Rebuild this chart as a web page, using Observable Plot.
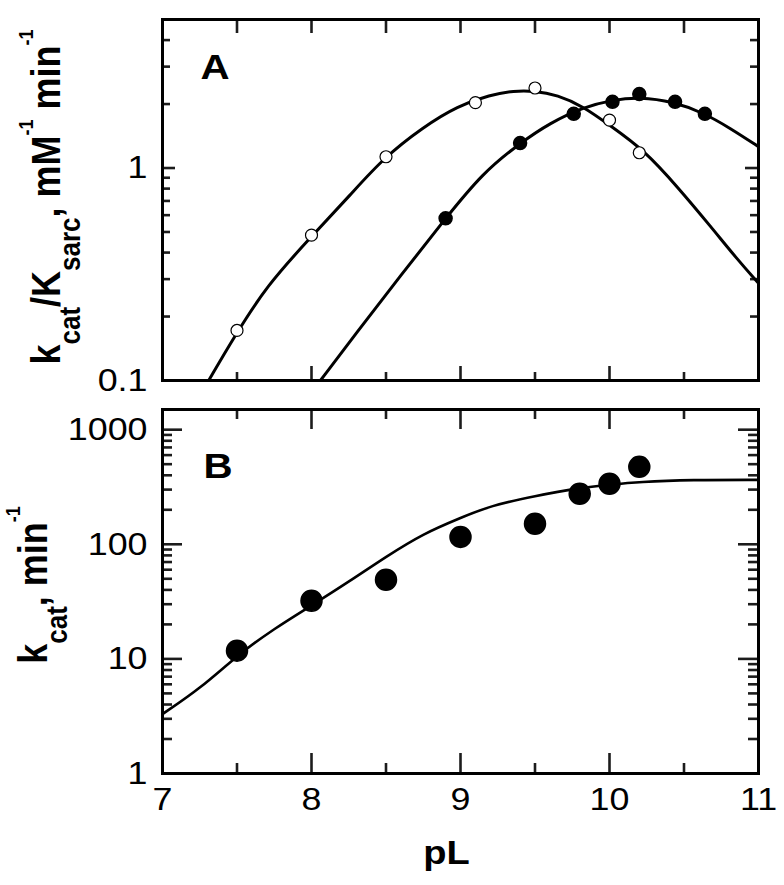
<!DOCTYPE html>
<html><head><meta charset="utf-8">
<script src="https://cdn.jsdelivr.net/npm/d3@7"></script>
<script src="https://cdn.jsdelivr.net/npm/@observablehq/plot@0.6"></script>
<style>
body{margin:0;background:#fff;}
#wrap{position:relative;width:784px;height:885px;overflow:hidden;}
#wrap svg{position:absolute;left:0;}
</style></head><body><div id="wrap"></div>
<script>
// ---------- Panel A data ----------
const openPL   = [7.5, 8.0, 8.5, 9.1, 9.5, 10.0, 10.2];
const openVal  = [0.172, 0.483, 1.13, 2.03, 2.38, 1.68, 1.18];
const filledPL  = [8.9, 9.4, 9.76, 10.02, 10.2, 10.44, 10.64];
const filledVal = [0.58, 1.31, 1.80, 2.05, 2.23, 2.05, 1.80];
const openFitPL  = [7.31, 7.48, 7.70, 7.99, 8.26, 8.48, 8.75, 8.98, 9.20, 9.36, 9.49, 9.65, 9.83, 10.0, 10.23, 10.46, 10.68, 10.86, 11.0];
const openFitVal = [0.1, 0.16, 0.28, 0.468, 0.746, 1.11, 1.56, 1.96, 2.21, 2.31, 2.31, 2.21, 1.94, 1.59, 1.22, 0.81, 0.53, 0.37, 0.287];
const filledFitPL  = [8.06, 8.3, 8.6, 8.9, 9.15, 9.4, 9.6, 9.83, 10.02, 10.2, 10.43, 10.63, 10.81, 11.0];
const filledFitVal = [0.1, 0.167, 0.313, 0.58, 0.95, 1.31, 1.63, 1.94, 2.09, 2.16, 2.05, 1.82, 1.54, 1.26];

// ---------- Panel B data ----------
const bPL  = [7.5, 8.0, 8.5, 9.0, 9.5, 9.8, 10.0, 10.2];
const bVal = [11.8, 32.2, 49, 116, 151, 276, 337, 474];
const bFitPL  = [7.0, 7.26, 7.5, 7.75, 8.0, 8.26, 8.5, 8.75, 9.0, 9.2, 9.5, 9.8, 10.0, 10.2, 10.55, 11.0];
const bFitVal = [3.3, 5.6, 10.7, 18.4, 29.2, 48, 78, 124, 170, 217, 264, 311, 331, 351, 365, 365];

// ---------- ticks ----------
const xMajor = [7, 8, 9, 10, 11];
const xMinor = [7.5, 8.5, 9.5, 10.5];
const xTickLabels = ["7", "8", "9", "10", "11"];
const aYMajor = [0.1, 1];
const aYMinor = [0.2, 0.3, 0.4, 0.5, 0.6, 0.7, 0.8, 0.9, 2, 3, 4];
const aYLabels = ["0.1", "1"];
const bYMajor = [1, 10, 100, 1000];
const bYMinor = [2,3,4,5,6,7,8,9, 20,30,40,50,60,70,80,90, 200,300,400,500,600,700,800,900];
const bYLabels = ["1", "10", "100", "1000"];

const zip = (xs, ys) => xs.map((x, i) => ({pL: x, v: ys[i]}));
const FONT = "'Liberation Sans', Arial, Helvetica, sans-serif";
const STRETCH = 1.12;
const TW = 2.6;
const TICK = "#1c1c1c";
const W = 784, ML = 162, MR = 26;
const FW = W - ML - MR;

// inward ticks as short rules, inset from the opposite side of the frame
function ticksFor(o) {
  const FH = o.FH;
  const rx = (data, side, len) => Plot.ruleX(data, {stroke: TICK, strokeWidth: TW,
    insetTop: side === "bottom" ? FH - len : 0, insetBottom: side === "top" ? FH - len : 0});
  const ry = (data, side, len) => Plot.ruleY(data, {stroke: TICK, strokeWidth: TW,
    insetRight: side === "left" ? FW - len : 0, insetLeft: side === "right" ? FW - len : 0});
  const marks = [
    rx(xMajor, "top", o.xTopMaj), rx(xMinor, "top", o.xTopMin),
    rx(xMajor, "bottom", o.xBotMaj), rx(xMinor, "bottom", o.xBotMin),
    ry(o.yMajor, "left", o.yMajLen), ry(o.yMinor, "left", o.yMinLen),
    ry(o.yMajor, "right", o.yMajLen), ry(o.yMinor, "right", o.yMinLen),
    Plot.axisY(o.yMajor, {anchor: "left", tickSize: 0, tickPadding: 15, label: null,
      tickFormat: d => o.yLabels[o.yMajor.indexOf(d)], fontSize: 32, fontFamily: FONT})
  ];
  if (o.xLabels) marks.push(Plot.axisX(xMajor, {anchor: "bottom", tickSize: 0, tickPadding: 14, label: null,
      tickFormat: d => o.xLabels[xMajor.indexOf(d)], fontSize: 32, fontFamily: FONT}));
  else marks.push(Plot.axisX(xMajor, {anchor: "bottom", tickSize: 0, tickFormat: () => "", label: null}));
  return marks;
}

const plotA = Plot.plot({
  width: W, height: 405,
  marginLeft: ML, marginRight: MR, marginTop: 19, marginBottom: 25,
  style: {fontFamily: FONT, fontSize: "32px", color: "#000", overflow: "visible"},
  x: {domain: [7, 11]},
  y: {type: "log", domain: [0.1, 5]},
  marks: [
    ...ticksFor({FH: 361, xTopMaj: 14, xTopMin: 14, xBotMaj: 14, xBotMin: 8, yMajLen: 13, yMinLen: 8,
      yMajor: aYMajor, yMinor: aYMinor, yLabels: aYLabels, xLabels: null}),
    Plot.line(zip(openFitPL, openFitVal), {x: "pL", y: "v", curve: "basis", stroke: "#000", strokeWidth: 3, clip: true}),
    Plot.line(zip(filledFitPL, filledFitVal), {x: "pL", y: "v", curve: "basis", stroke: "#000", strokeWidth: 3, clip: true}),
    Plot.dot(zip(openPL, openVal), {x: "pL", y: "v", r: 6, fill: "#fff", stroke: "#000", strokeWidth: 1.2}),
    Plot.dot(zip(filledPL, filledVal), {x: "pL", y: "v", r: 6.5, fill: "#000", stroke: "#000"}),
    Plot.frame({stroke: "#000", strokeWidth: 3}),
    Plot.text(["A"], {frameAnchor: "top-left", text: d => d, dx: 38, dy: 34, textAnchor: "start", lineAnchor: "top",
      fontSize: 36, fontWeight: "bold", fill: "#000"})
  ]
});

const plotB = Plot.plot({
  width: W, height: 490,
  marginLeft: ML, marginRight: MR, marginTop: 14, marginBottom: 112,
  style: {fontFamily: FONT, fontSize: "32px", color: "#000", overflow: "visible"},
  x: {domain: [7, 11]},
  y: {type: "log", domain: [1, 1500]},
  marks: [
    ...ticksFor({FH: 364, xTopMaj: 20, xTopMin: 10, xBotMaj: 20, xBotMin: 10, yMajLen: 20, yMinLen: 10,
      yMajor: bYMajor, yMinor: bYMinor, yLabels: bYLabels, xLabels: xTickLabels}),
    Plot.line(zip(bFitPL, bFitVal), {x: "pL", y: "v", curve: "basis", stroke: "#000", strokeWidth: 2.6, clip: true}),
    Plot.dot(zip(bPL, bVal), {x: "pL", y: "v", r: 10.5, fill: "#000", stroke: "#000"}),
    Plot.frame({stroke: "#000", strokeWidth: 3}),
    Plot.text(["B"], {frameAnchor: "top-left", text: d => d, dx: 41, dy: 43, textAnchor: "start", lineAnchor: "top",
      fontSize: 36, fontWeight: "bold", fill: "#000"}),
    Plot.text(["pL"], {frameAnchor: "bottom", text: d => d, dx: -14, dy: 90, textAnchor: "middle", lineAnchor: "bottom",
      fontSize: 34, fontWeight: "bold", fill: "#000"})
  ]
});

const wrap = document.getElementById("wrap");
plotA.style.top = "0px";
plotB.style.top = "395px";
wrap.appendChild(plotA);
wrap.appendChild(plotB);

// rotated rich-text y labels (sub/superscripts)
function richLabel(svg, x, y, parts) {
  const t = d3.select(svg).append("text")
    .attr("transform", `translate(${x},${y}) rotate(-90)`)
    .attr("text-anchor", "middle")
    .attr("font-family", FONT)
    .attr("font-weight", "bold")
    .attr("fill", "#000")
    .style("white-space", "pre");
  for (const p of parts) {
    t.append("tspan").attr("font-size", p.size).attr("dy", p.dy || 0).text(p.t);
  }
}
const labelA = [
  {t: "k", size: 36}, {t: "cat", size: 26, dy: 18}, {t: "/K", size: 36, dy: -18},
  {t: "sarc", size: 26, dy: 18}, {t: ", mM", size: 36, dy: -18}, {t: "-1", size: 18, dy: -24},
  {t: " min", size: 36, dy: 24}, {t: "-1", size: 18, dy: -24}
];
const labelB = [
  {t: "k", size: 36}, {t: "cat", size: 26, dy: 18}, {t: ", min", size: 36, dy: -18}, {t: "-1", size: 18, dy: -24}
];
richLabel(plotA, 60, 197, labelA);
richLabel(plotB, 47, 585 - 395, labelB);

// the reference's lettering is slightly wide: stretch text horizontally around its anchor
for (const svg of [plotA, plotB]) {
  svg.querySelectorAll("text").forEach(el => {
    const tr = el.getAttribute("transform");
    if (tr && /translate/.test(tr) && !el.getAttribute("x")) {
      el.setAttribute("transform", tr.replace(/(translate\([^)]*\))/, `$1 scale(${STRETCH},1)`));
    }
  });
}
</script></body></html>
